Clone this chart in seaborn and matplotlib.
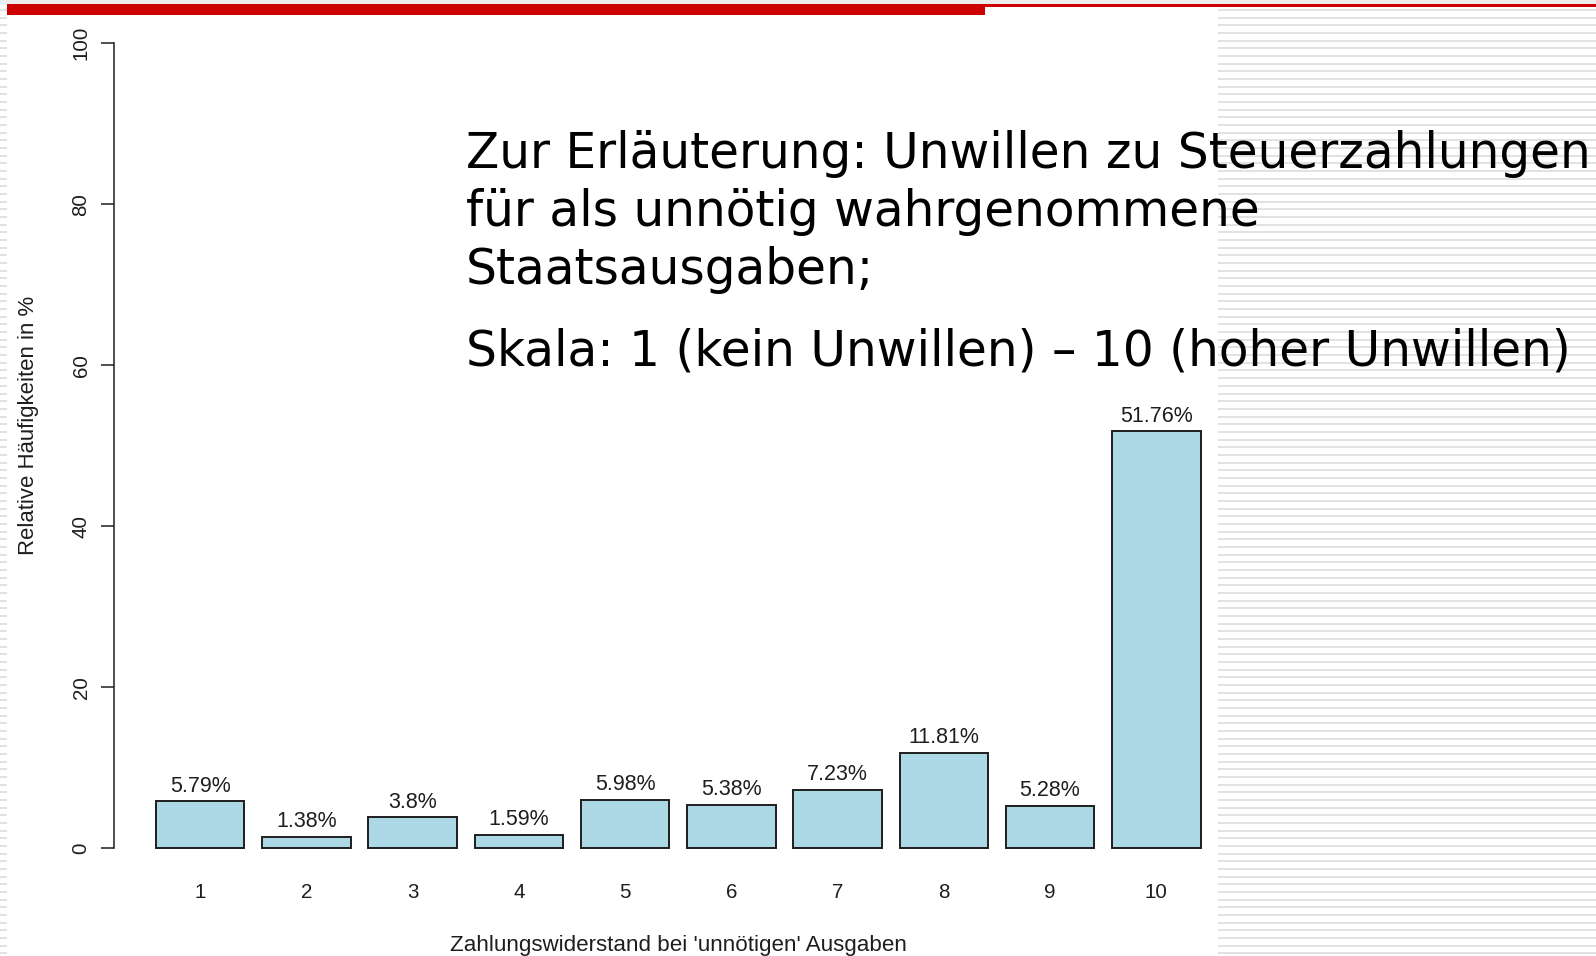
import numpy as np
import pandas as pd
import matplotlib
matplotlib.use("Agg")
import matplotlib.pyplot as plt
from matplotlib.patches import Rectangle
import seaborn as sns

# data
categories = ["1", "2", "3", "4", "5", "6", "7", "8", "9", "10"]
shares = [5.79, 1.38, 3.8, 1.59, 5.98, 5.38, 7.23, 11.81, 5.28, 51.76]
y_ticks = [0, 20, 40, 60, 80, 100]

note_lines = [
    "Zur Erläuterung: Unwillen zu Steuerzahlungen",
    "für als unnötig wahrgenommene",
    "Staatsausgaben;",
]
scale_line = "Skala: 1 (kein Unwillen) – 10 (hoher Unwillen)"

BAR_BLUE = "#ADD8E6"
INK = "#1e1e1e"
SLIDE_RED = "#CC0000"
STRIPE = "#e2e2e2"

W, H = 1596, 956

sns.set_style("white")
plt.rcParams["font.family"] = ["Liberation Sans", "DejaVu Sans"]

fig = plt.figure(figsize=(W / 100, H / 100), dpi=100)
fig.patch.set_facecolor("white")

# slide background: striped margins and red header line
bg = fig.add_axes([0, 0, 1, 1], zorder=0)
bg.set_xlim(0, W)
bg.set_ylim(H, 0)
bg.axis("off")
stripe_y = np.arange(10, H, 7.67)
bg.hlines(stripe_y, 0, 7, color=STRIPE, lw=1.4)
bg.hlines(stripe_y, 1218, W, color=STRIPE, lw=1.4)
bg.add_patch(Rectangle((0, 0), W, 4, color="#ececec", lw=0))
bg.add_patch(Rectangle((7, 4), W - 7, 3, color=SLIDE_RED, lw=0))
bg.add_patch(Rectangle((7, 4), 978, 11, color=SLIDE_RED, lw=0))

# bar chart
x0, x1 = -0.811, 9.6
ax = fig.add_axes([114 / W, (H - 880.2) / H, (1220 - 114) / W, (880.2 - 11.1) / H], zorder=2)
ax.patch.set_visible(False)

df = pd.DataFrame({"stufe": categories, "anteil": shares})
sns.barplot(data=df, x="stufe", y="anteil", order=categories, color=BAR_BLUE,
            saturation=1, width=0.833, edgecolor=INK, linewidth=1.4, ax=ax)

for i, v in enumerate(shares):
    ax.annotate(f"{v:g}%", (i, v), xytext=(0, 7), textcoords="offset points",
                ha="center", va="baseline", fontsize=15.5, color=INK)

ax.set_xlim(x0, x1)
ax.set_ylim(-4, 104)
ax.set_yticks(y_ticks)
ax.set_yticklabels([str(t) for t in y_ticks], rotation=90, va="center")
ax.tick_params(axis="y", left=True, direction="out", length=9.4, width=1.1, color=INK,
               pad=7.5, labelsize=14.8, labelcolor=INK)
ax.tick_params(axis="x", bottom=False, length=0, pad=2.0, labelsize=14.8, labelcolor=INK)
ax.set_xlabel("")
ax.set_ylabel("")
for side in ["top", "right", "bottom"]:
    ax.spines[side].set_visible(False)
ax.spines["left"].set_bounds(0, 100)
ax.spines["left"].set_color(INK)
ax.spines["left"].set_linewidth(1.1)

fig.text(678 / W, (H - 946) / H, "Zahlungswiderstand bei 'unnötigen' Ausgaben",
         ha="center", va="center", fontsize=16.1, color=INK)
fig.text(28.5 / W, (H - 425) / H, "Relative Häufigkeiten in %", rotation=90,
         ha="center", va="center", fontsize=15.9, color=INK)

# explanatory slide text
for k, line in enumerate(note_lines):
    fig.text(466 / W, (H - (168 + 58 * k)) / H, line, ha="left", va="baseline",
             fontsize=35, color="black", family="DejaVu Sans", zorder=5)
fig.text(466 / W, (H - 366) / H, scale_line, ha="left", va="baseline",
         fontsize=35, color="black", family="DejaVu Sans", zorder=5)

fig.savefig("out.png", dpi=100)
